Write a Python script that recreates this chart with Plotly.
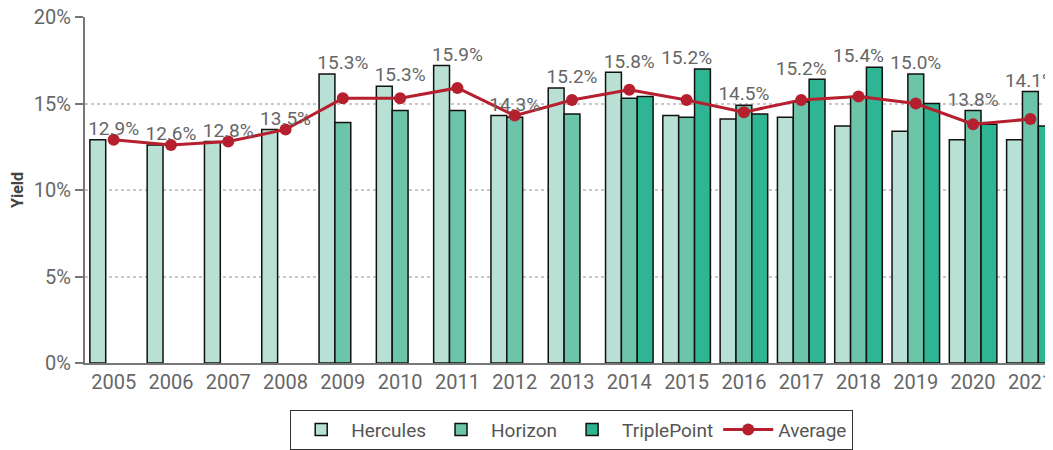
import plotly.graph_objects as go

years = [str(y) for y in range(2005, 2022)]
hercules = [12.9, 12.6, 12.8, 13.5, 16.7, 16.0, 17.2, 14.3, 15.9, 16.8, 14.3, 14.1, 14.2, 13.7, 13.4, 12.9, 12.9]
horizon = [None, None, None, None, 13.9, 14.6, 14.6, 14.2, 14.4, 15.3, 14.2, 14.9, 15.1, 15.4, 16.7, 14.6, 15.7]
triplepoint = [None, None, None, None, None, None, None, None, None, 15.4, 17.0, 14.4, 16.4, 17.1, 15.0, 13.8, 13.7]
average = [12.9, 12.6, 12.8, 13.5, 15.3, 15.3, 15.9, 14.3, 15.2, 15.8, 15.2, 14.5, 15.2, 15.4, 15.0, 13.8, 14.1]
y_ticks = [0, 5, 10, 15, 20]

FONT = "Roboto"
TXT = "#666666"

# label anchor: tallest bar in each year
label_y = [max(v for v in (a, b, c) if v is not None) for a, b, c in zip(hercules, horizon, triplepoint)]
label_txt = [f"{v:.1f}%" for v in average]

fig = go.Figure()
for name, vals, col in [("Hercules", hercules, "#b9e0d4"),
                        ("Horizon", horizon, "#6cc4a9"),
                        ("TriplePoint", triplepoint, "#2db594")]:
    fig.add_trace(go.Bar(x=years, y=vals, name=name,
                         marker=dict(color=col, line=dict(color="#111111", width=1.5))))

fig.add_trace(go.Scatter(x=years, y=average, name="Average", mode="lines+markers",
                         line=dict(color="#b51f2e", width=3),
                         marker=dict(color="#b51f2e", size=12)))

fig.add_trace(go.Scatter(x=years, y=label_y, mode="text", text=label_txt,
                         textposition="top center", showlegend=False, cliponaxis=False,
                         textfont=dict(family=FONT, size=19, color=TXT)))

n = len(years)
fig.update_layout(
    width=1045, height=442,
    margin=dict(l=77, r=0, t=9, b=85),
    barmode="group", bargap=0.17, bargroupgap=0,
    plot_bgcolor="white", paper_bgcolor="white",
    font=dict(family=FONT, size=19, color=TXT),
    legend=dict(orientation="h", x=0.507, xanchor="center", y=-0.135, yanchor="top",
                bordercolor="#333333", borderwidth=1, font=dict(size=19, color="#555555"),
                itemwidth=50),
    xaxis=dict(type="category", range=[-0.5, n - 0.5 - 0.245], showline=True,
               linecolor="#777777", linewidth=2,
               ticks="", tickfont=dict(size=20, color=TXT), showgrid=False),
    yaxis=dict(range=[0, 20], tickvals=y_ticks, ticktext=[f"{t}%" for t in y_ticks],
               showline=True, linecolor="#777777", linewidth=2,
               ticks="outside", ticklen=8, tickcolor="#777777", tickwidth=2,
               showgrid=True, gridcolor="#c8c8c8", griddash="dot", gridwidth=1.5,
               tickfont=dict(size=20, color=TXT), zeroline=False, automargin=False,
               ticklabeloverflow="allow",
               title=dict(text="<b>Yield</b>", font=dict(size=16, color="#444444"), standoff=10)),
)

fig.write_html("out.html")
